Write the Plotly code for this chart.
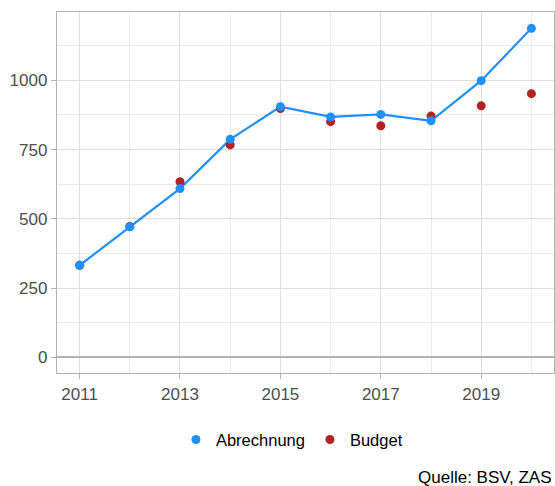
import plotly.graph_objects as go

# Daten
jahre = [2011, 2012, 2013, 2014, 2015, 2016, 2017, 2018, 2019, 2020]
abrechnung = [332, 471, 609, 787, 905, 868, 877, 854, 999, 1188]
budget = [332, 472, 634, 767, 898, 851, 836, 871, 908, 952]
x_ticks = [2011, 2013, 2015, 2017, 2019]
y_ticks = [0, 250, 500, 750, 1000]

BLAU = "#1E90FF"
ROT = "#B22222"
FONT = "Liberation Sans"

fig = go.Figure()

# Linie ohne Legende, Punkte separat (Legende zeigt nur Punkte)
fig.add_trace(go.Scatter(x=jahre, y=abrechnung, mode="lines",
                         line=dict(color=BLAU, width=2.2),
                         showlegend=False, hoverinfo="skip"))
fig.add_trace(go.Scatter(x=jahre, y=budget, mode="markers", name="Budget",
                         marker=dict(color=ROT, size=9)))
fig.add_trace(go.Scatter(x=jahre, y=abrechnung, mode="markers", name="Abrechnung",
                         marker=dict(color=BLAU, size=9)))

fig.update_layout(
    width=555, height=486,
    margin=dict(l=57, r=1, t=12, b=113),
    paper_bgcolor="white",
    plot_bgcolor="white",
    font=dict(family=FONT, size=16, color="black"),
    legend=dict(orientation="h", traceorder="reversed",
                xref="container", yref="container",
                x=0.526, xanchor="center", y=0.095, yanchor="middle",
                font=dict(size=16.5, color="black"),
                itemwidth=30),
    annotations=[dict(text="Quelle: BSV, ZAS", xref="paper", yref="paper",
                      x=1.0, y=-0.29, xanchor="right", yanchor="middle",
                      showarrow=False, font=dict(size=17, color="black"))],
)

fig.update_xaxes(
    range=[2010.55, 2020.45],
    tickvals=x_ticks,
    ticks="outside", ticklen=5, tickcolor="#b3b3b3", tickwidth=1,
    tickfont=dict(size=17, color="#4d4d4d"),
    showgrid=True, gridcolor="#dedede", gridwidth=1,
    minor=dict(dtick=1, tick0=2011, showgrid=True, gridcolor="#ebebeb", gridwidth=1),
    showline=True, linecolor="#b3b3b3", linewidth=1.3, mirror=True,
    zeroline=False,
)
fig.update_yaxes(
    range=[-57, 1247],
    tickvals=y_ticks,
    ticks="outside", ticklen=5, tickcolor="#b3b3b3", tickwidth=1,
    tickfont=dict(size=17, color="#4d4d4d"),
    showgrid=True, gridcolor="#dedede", gridwidth=1,
    minor=dict(dtick=125, tick0=0, showgrid=True, gridcolor="#ebebeb", gridwidth=1),
    showline=True, linecolor="#b3b3b3", linewidth=1.3, mirror=True,
    zeroline=True, zerolinecolor="#b3b3b3", zerolinewidth=2,
)

# Seitenrand entfernen, damit die Figur bei (0,0) beginnt; keine Modebar
fig.write_html("out.html", config={"displayModeBar": False},
               post_script="document.body.style.margin='0';")
